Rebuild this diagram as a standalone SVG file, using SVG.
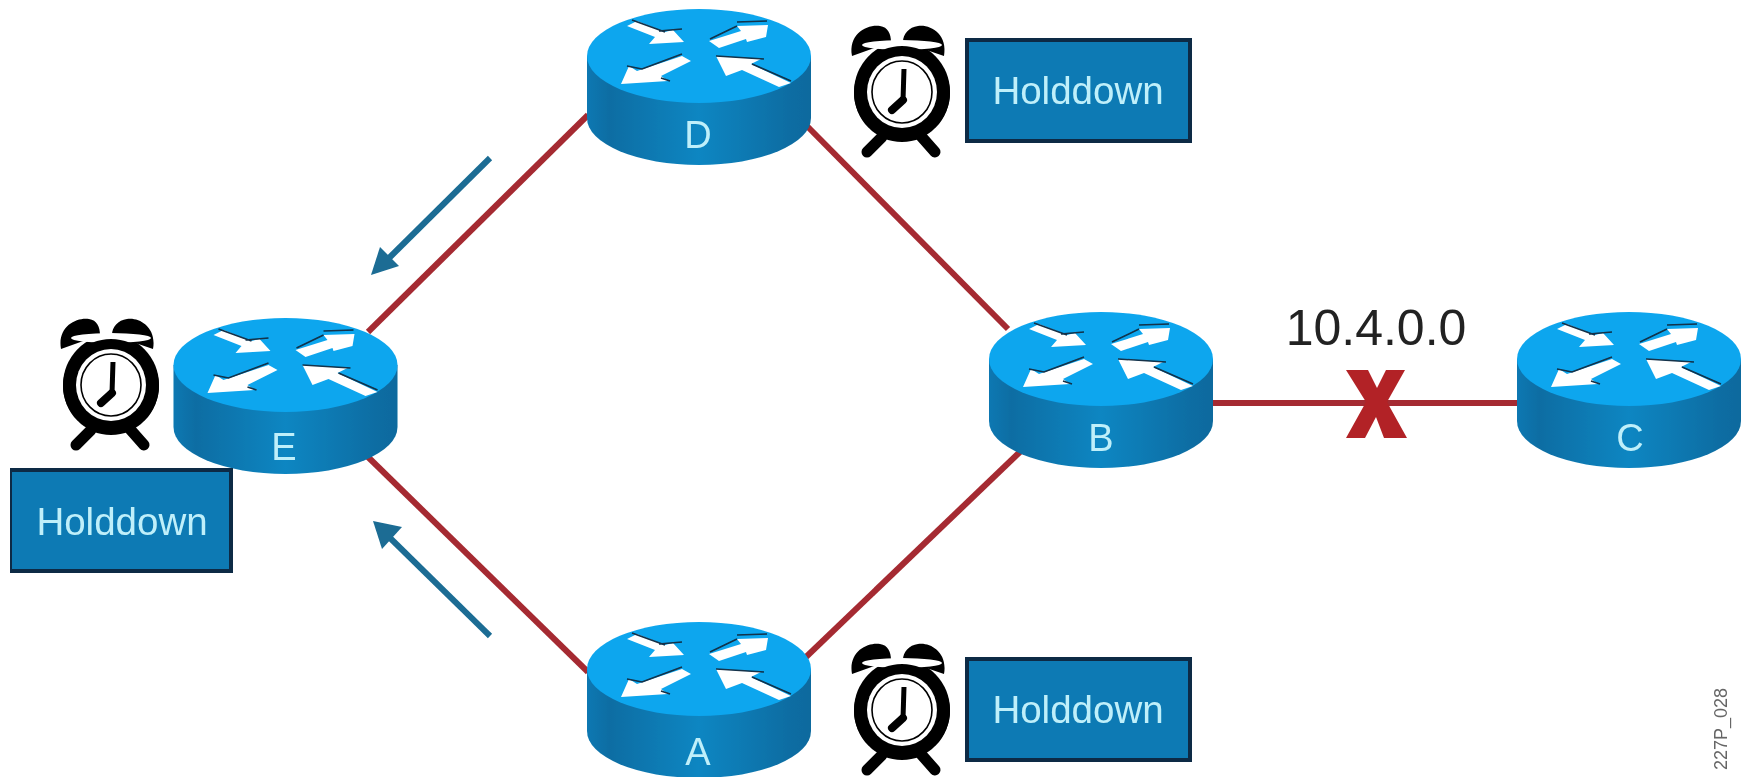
<svg xmlns="http://www.w3.org/2000/svg" width="1747" height="777" viewBox="0 0 1747 777">
<style>
text{font-family:"Liberation Sans",Arial,sans-serif}
.link{stroke:#a52a30;stroke-width:6;fill:none}
.flow{stroke:#1a6c94;stroke-width:6;fill:none}
.box{fill:#0a7ab4;stroke:#0c2a44;stroke-width:4}
.hold{font-size:38.5px;fill:#bfeffa;text-anchor:middle}
.name{font-size:38px;fill:#bfeffa;text-anchor:middle}
.ar{fill:#fff}
.sh{stroke:#123048;stroke-width:1.6;fill:none}
</style>
<defs>
<filter id="soft" x="0" y="0" width="100%" height="100%"><feGaussianBlur stdDeviation="0.6"/></filter>
<linearGradient id="side" x1="0" x2="1" y1="0" y2="0">
<stop offset="0" stop-color="#0b78b2"/><stop offset=".1" stop-color="#0a6da3"/><stop offset=".5" stop-color="#0b86c2"/><stop offset=".9" stop-color="#0a6da3"/><stop offset="1" stop-color="#0a6a9e"/>
</linearGradient>
<g id="router">
<path d="M-112 0V62A112 47 0 0 0 112 62V0Z" fill="url(#side)"/>
<ellipse rx="112" ry="47" fill="#0ea6ee"/>
<polygon class="ar" points="-72,-30 -62,-35 -34,-24 -26,-26 -15,-14 -50,-12 -44,-19"/>
<polygon class="ar" points="10,-15 20,-8 47,-17 48,-14 67,-19 69,-31 38,-30 42,-25"/>
<polygon class="ar" points="-17,0 -8,5 -38,20 -31,25 -78,28 -70,10 -62,15"/>
<polygon class="ar" points="92,27 80,31 43,14 27,20 17,0 62,3 52,8"/>
<path class="sh" d="M-67,-36L-34,-24M-40,-25L-17,-27M11,-17L38,-30M38,-34L68,-35M-72,10L-57,13L-17,-2M-38,22L-29,25M17,0L65,3M53,8L92,25"/>
</g>
<g id="clock">
<path d="M-50,-36C-54,-58 -35,-68 -22,-66C-14,-65 -11,-58 -11,-50Z" fill="#000"/>
<path d="M42,-36C46,-58 28,-68 16,-66C7,-65 1,-58 1,-50Z" fill="#000"/>
<ellipse rx="48" ry="50" fill="#000"/>
<ellipse cy="-47" rx="40" ry="5" fill="#fff"/>
<ellipse cy="1" rx="48" ry="47" fill="#000"/>
<ellipse rx="35" ry="36" fill="#fff"/>
<ellipse rx="30" ry="31" fill="none" stroke="#000" stroke-width="1.6"/>
<path d="M-35,60L-20,45M33,60L18,43" stroke="#000" stroke-width="11" stroke-linecap="round"/>
<path d="M2,-23L1,8" stroke="#000" stroke-width="5"/>
<path d="M1,8L-10,18" stroke="#000" stroke-width="8" stroke-linecap="round"/>
</g>
</defs>
<rect width="1747" height="777" fill="#fff"/>
<g filter="url(#soft)">
<g id="connectors">
<line class="link" x1="368" y1="332" x2="588" y2="115"/>
<line class="link" x1="806" y1="125" x2="1008" y2="329"/>
<line class="link" x1="368" y1="457" x2="588" y2="672"/>
<line class="link" x1="806" y1="657" x2="1023" y2="449"/>
<line class="link" x1="1212" y1="403" x2="1517" y2="403"/>
<line class="flow" x1="490" y1="158" x2="385" y2="262"/>
<polygon points="371,275 380,247 399,266" fill="#1a6c94"/>
<line class="flow" x1="490" y1="636" x2="387" y2="535"/>
<polygon points="373,521 402,527 382,549" fill="#1a6c94"/>
</g>
<g id="node-d"><use href="#router" x="699" y="56"/><text class="name" x="698" y="148">D</text></g>
<g id="node-e"><use href="#router" x="285.5" y="365"/><text class="name" x="284" y="460">E</text></g>
<g id="node-b"><use href="#router" x="1101" y="359"/><text class="name" x="1101" y="451">B</text></g>
<g id="node-c"><use href="#router" x="1629" y="359"/><text class="name" x="1630" y="451">C</text></g>
<g id="node-a"><use href="#router" x="699" y="669"/><text class="name" x="698" y="765">A</text></g>
<g id="clock-d"><use href="#clock" x="902" y="92"/></g>
<g id="clock-a"><use href="#clock" x="902" y="710"/></g>
<g id="clock-e"><use href="#clock" x="111" y="385"/></g>
<g id="hold-d"><rect class="box" x="967" y="40" width="223" height="101"/><text class="hold" x="1078" y="104">Holddown</text></g>
<g id="hold-a"><rect class="box" x="967" y="659" width="223" height="101"/><text class="hold" x="1078" y="723">Holddown</text></g>
<g id="hold-e"><rect class="box" x="10" y="470" width="221" height="101"/><text class="hold" x="122" y="535">Holddown</text></g>
<text x="1376" y="345" font-size="50" fill="#222" text-anchor="middle">10.4.0.0</text>
<g id="x-mark"><polygon points="1346,370 1368,370 1377,388 1386,370 1405,370 1387,402 1407,438 1384,438 1376,417 1365,438 1346,438 1366,402" fill="#b22326"/></g>
<text transform="translate(1727 688) rotate(-90)" font-size="18" fill="#666" text-anchor="end">227P_028</text>
</g>
</svg>
